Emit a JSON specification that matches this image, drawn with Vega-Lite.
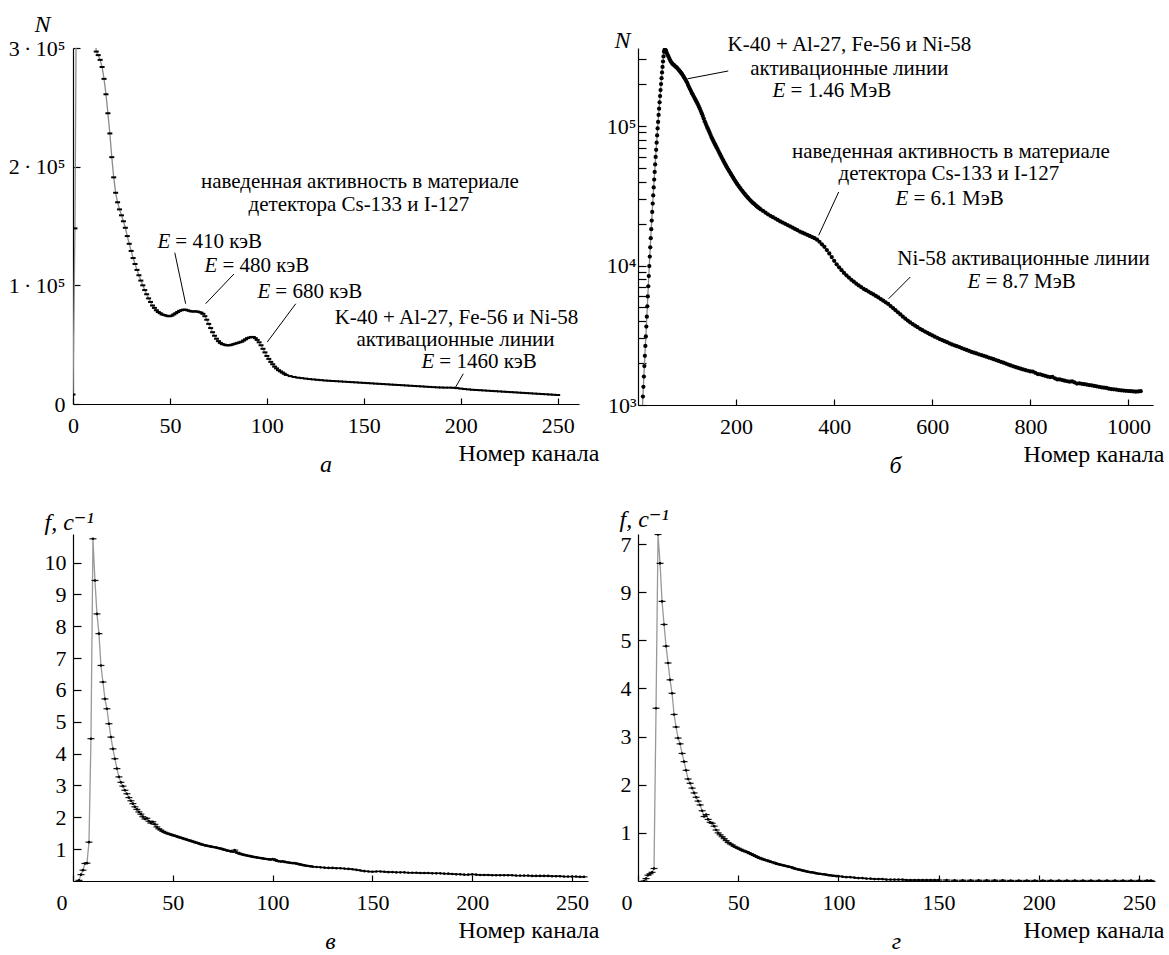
{
"$schema": "https://vega.github.io/schema/vega-lite/v6.json",
"background": "white",
"padding": {"left": 8, "top": 12, "right": 0, "bottom": 0},
"bounds": "flush",
"columns": 2,
"spacing": {"row": 129, "column": 50},
"config": {
  "font": "Liberation Serif, Times New Roman, DejaVu Serif, serif",
  "view": {"stroke": null},
  "axis": {"grid": false, "domainColor": "#000", "domainWidth": 1.2, "tickColor": "#000", "tickWidth": 1.2,
    "labelFont": "Liberation Serif, Times New Roman, DejaVu Serif, serif", "labelFontSize": 22, "labelColor": "#000",
    "titleFont": "Liberation Serif, Times New Roman, DejaVu Serif, serif", "titleFontSize": 24, "titleFontWeight": "normal", "titleColor": "#000",
    "labelFlush": false, "labelOverlap": false, "labelBound": false},
  "axisX": {"tickSize": -6, "labelPadding": 17, "titleAlign": "right", "titleAnchor": "end", "titleX": 526, "titleY": 49, "titleBaseline": "middle", "format": "d"},
  "axisY": {"tickSize": -7, "labelPadding": 15, "titleAngle": 0, "titleBaseline": "middle"},
  "title": {"font": "Liberation Serif, Times New Roman, DejaVu Serif, serif", "fontSize": 24, "fontStyle": "italic", "fontWeight": "normal", "color": "#000", "orient": "bottom", "anchor": "middle", "baseline": "middle", "offset": -12},
  "text": {"font": "Liberation Serif, Times New Roman, DejaVu Serif, serif", "fontSize": 21, "color": "#000"}
},
"datasets": {
"a": [{"c":0,"n":8000},{"c":1,"n":148000},{"c":2,"n":420000},{"c":3,"n":560000},{"c":4,"n":600000},{"c":5,"n":590000},{"c":6,"n":560000},{"c":7,"n":520000},{"c":8,"n":470000},{"c":9,"n":420000},{"c":10,"n":370000},{"c":11,"n":320000},{"c":12,"n":297000},{"c":13,"n":294000},{"c":14,"n":290000},{"c":15,"n":284000},{"c":16,"n":274000},{"c":17,"n":261000},{"c":18,"n":245000},{"c":19,"n":228000},{"c":20,"n":208000},{"c":21,"n":191000},{"c":22,"n":178000},{"c":23,"n":170000},{"c":24,"n":164000},{"c":25,"n":159000},{"c":26,"n":154000},{"c":27,"n":148500},{"c":28,"n":141500},{"c":29,"n":135000},{"c":30,"n":129000},{"c":31,"n":123000},{"c":32,"n":118000},{"c":33,"n":113000},{"c":34,"n":108500},{"c":35,"n":104000},{"c":36,"n":100000},{"c":37,"n":96000},{"c":38,"n":92500},{"c":39,"n":89000},{"c":40,"n":86000},{"c":41,"n":83000},{"c":42,"n":81000},{"c":43,"n":79000},{"c":44,"n":77500},{"c":45,"n":76500},{"c":46,"n":75500},{"c":47,"n":75000},{"c":48,"n":74500},{"c":49,"n":74000},{"c":50,"n":74000},{"c":51,"n":74500},{"c":52,"n":75500},{"c":53,"n":76500},{"c":54,"n":77500},{"c":55,"n":78500},{"c":56,"n":79000},{"c":57,"n":79500},{"c":58,"n":79500},{"c":59,"n":79000},{"c":60,"n":78500},{"c":61,"n":78000},{"c":62,"n":78000},{"c":63,"n":78000},{"c":64,"n":78000},{"c":65,"n":77500},{"c":66,"n":77000},{"c":67,"n":76000},{"c":68,"n":74000},{"c":69,"n":71000},{"c":70,"n":67500},{"c":71,"n":64000},{"c":72,"n":60500},{"c":73,"n":57500},{"c":74,"n":55000},{"c":75,"n":53000},{"c":76,"n":51500},{"c":77,"n":50500},{"c":78,"n":50000},{"c":79,"n":49500},{"c":80,"n":49500},{"c":81,"n":49500},{"c":82,"n":50000},{"c":83,"n":50500},{"c":84,"n":51000},{"c":85,"n":51500},{"c":86,"n":52000},{"c":87,"n":52500},{"c":88,"n":53500},{"c":89,"n":54500},{"c":90,"n":55500},{"c":91,"n":56000},{"c":92,"n":56500},{"c":93,"n":56500},{"c":94,"n":55500},{"c":95,"n":54000},{"c":96,"n":52000},{"c":97,"n":49500},{"c":98,"n":46500},{"c":99,"n":43500},{"c":100,"n":40500},{"c":101,"n":38000},{"c":102,"n":35500},{"c":103,"n":33500},{"c":104,"n":31500},{"c":105,"n":30000},{"c":106,"n":28500},{"c":107,"n":27500},{"c":108,"n":26500},{"c":109,"n":25500},{"c":110,"n":24500},{"c":112,"n":23500},{"c":114,"n":22800},{"c":116,"n":22200},{"c":118,"n":21800},{"c":120,"n":21400},{"c":122,"n":21000},{"c":124,"n":20700},{"c":126,"n":20400},{"c":128,"n":20100},{"c":130,"n":19800},{"c":132,"n":19600},{"c":134,"n":19400},{"c":136,"n":19200},{"c":138,"n":19000},{"c":140,"n":18800},{"c":142,"n":18600},{"c":144,"n":18400},{"c":146,"n":18200},{"c":148,"n":18000},{"c":150,"n":17800},{"c":152,"n":17600},{"c":154,"n":17400},{"c":156,"n":17200},{"c":158,"n":17000},{"c":160,"n":16800},{"c":162,"n":16600},{"c":164,"n":16400},{"c":166,"n":16200},{"c":168,"n":16000},{"c":170,"n":15800},{"c":172,"n":15600},{"c":174,"n":15400},{"c":176,"n":15200},{"c":178,"n":15000},{"c":180,"n":14800},{"c":182,"n":14600},{"c":184,"n":14400},{"c":186,"n":14200},{"c":188,"n":14000},{"c":190,"n":13900},{"c":192,"n":13800},{"c":194,"n":13800},{"c":196,"n":13700},{"c":198,"n":13400},{"c":200,"n":13000},{"c":202,"n":12600},{"c":204,"n":12300},{"c":206,"n":12000},{"c":208,"n":11800},{"c":210,"n":11600},{"c":212,"n":11400},{"c":214,"n":11200},{"c":216,"n":11000},{"c":218,"n":10800},{"c":220,"n":10600},{"c":222,"n":10400},{"c":224,"n":10200},{"c":226,"n":10000},{"c":228,"n":9800},{"c":230,"n":9600},{"c":232,"n":9400},{"c":234,"n":9200},{"c":236,"n":9000},{"c":238,"n":8800},{"c":240,"n":8600},{"c":242,"n":8400},{"c":244,"n":8200},{"c":246,"n":8000},{"c":248,"n":7800},{"c":250,"n":7600}],
"aTxt": [{"c":148,"n":187000,"t":"наведенная активность в материале"},{"c":147.5,"n":167700,"t":"детектора Cs-133 и I-127"},{"c":197.8,"n":72500,"t":"K-40 + Al-27, Fe-56 и Ni-58"},{"c":197.3,"n":53900,"t":"активационные линии"}],
"aE": [{"c":50.2,"n":136500,"t":"= 410 кэВ"},{"c":74.5,"n":116300,"t":"= 480 кэВ"},{"c":101.8,"n":94400,"t":"= 680 кэВ"},{"c":186.4,"n":35400,"t":"= 1460 кэВ"}],
"aLead": [{"c":52.5,"n":127500,"c2":58.1,"n2":84500},{"c":83.0,"n":109500,"c2":68.4,"n2":84500},{"c":114.9,"n":84500,"c2":100.2,"n2":52200},{"c":201.3,"n":25500,"c2":197.4,"n2":14300}],
"b": [{"c":9,"n":950},{"c":10,"n":1150},{"c":11,"n":1350},{"c":12,"n":1600},{"c":13,"n":1900},{"c":14,"n":2250},{"c":15,"n":2650},{"c":16,"n":3100},{"c":17,"n":3650},{"c":18,"n":4300},{"c":19,"n":5100},{"c":20,"n":6000},{"c":21,"n":7100},{"c":22,"n":8400},{"c":23,"n":9900},{"c":24,"n":11600},{"c":25,"n":13500},{"c":26,"n":15700},{"c":27,"n":18200},{"c":28,"n":21000},{"c":29,"n":24200},{"c":30,"n":27800},{"c":31,"n":31800},{"c":32,"n":36300},{"c":33,"n":41300},{"c":34,"n":46900},{"c":35,"n":53000},{"c":36,"n":60000},{"c":37,"n":67500},{"c":38,"n":76000},{"c":39,"n":85500},{"c":40,"n":96000},{"c":41,"n":107000},{"c":42,"n":120000},{"c":43,"n":133000},{"c":44,"n":148000},{"c":45,"n":164000},{"c":46,"n":181000},{"c":47,"n":200000},{"c":48,"n":220000},{"c":49,"n":242000},{"c":50,"n":265000},{"c":51,"n":290000},{"c":52,"n":315000},{"c":53,"n":340000},{"c":54,"n":350000},{"c":55,"n":352000},{"c":56,"n":350000},{"c":57,"n":345000},{"c":58,"n":338000},{"c":60,"n":326000},{"c":62,"n":315000},{"c":64,"n":304000},{"c":66,"n":294000},{"c":68,"n":286000},{"c":70,"n":280000},{"c":72,"n":276000},{"c":74,"n":272000},{"c":76,"n":268000},{"c":78,"n":264000},{"c":80,"n":260000},{"c":82,"n":255000},{"c":84,"n":250000},{"c":86,"n":245000},{"c":88,"n":240000},{"c":90,"n":235000},{"c":92,"n":229000},{"c":94,"n":223000},{"c":96,"n":217000},{"c":98,"n":211000},{"c":100,"n":205000},{"c":102,"n":197000},{"c":104,"n":190000},{"c":106,"n":184000},{"c":108,"n":178000},{"c":110,"n":172000},{"c":112,"n":167000},{"c":114,"n":162000},{"c":116,"n":157000},{"c":118,"n":152500},{"c":120,"n":148000},{"c":122,"n":143000},{"c":124,"n":138000},{"c":126,"n":133000},{"c":128,"n":128000},{"c":130,"n":123000},{"c":132,"n":118000},{"c":134,"n":113000},{"c":136,"n":108000},{"c":138,"n":104000},{"c":140,"n":100000},{"c":142,"n":96500},{"c":144,"n":93000},{"c":146,"n":89500},{"c":148,"n":86200},{"c":150,"n":83000},{"c":152,"n":80300},{"c":154,"n":77700},{"c":156,"n":75200},{"c":158,"n":72800},{"c":160,"n":70500},{"c":162,"n":68300},{"c":164,"n":66100},{"c":166,"n":64000},{"c":168,"n":62000},{"c":170,"n":60000},{"c":172,"n":58200},{"c":174,"n":56400},{"c":176,"n":54700},{"c":178,"n":53100},{"c":180,"n":51500},{"c":182,"n":50100},{"c":184,"n":48700},{"c":186,"n":47400},{"c":188,"n":46200},{"c":190,"n":45000},{"c":192,"n":43800},{"c":194,"n":42600},{"c":196,"n":41500},{"c":198,"n":40500},{"c":200,"n":39500},{"c":202.5,"n":38300},{"c":205,"n":37200},{"c":207.5,"n":36200},{"c":210,"n":35200},{"c":212.5,"n":34300},{"c":215,"n":33400},{"c":217.5,"n":32600},{"c":220,"n":31800},{"c":222.5,"n":31100},{"c":225,"n":30400},{"c":227.5,"n":29700},{"c":230,"n":29100},{"c":232.5,"n":28500},{"c":235,"n":28000},{"c":237.5,"n":27500},{"c":240,"n":27000},{"c":242.5,"n":26500},{"c":245,"n":26100},{"c":247.5,"n":25700},{"c":250,"n":25300},{"c":255,"n":24600},{"c":260,"n":23900},{"c":265,"n":23300},{"c":270,"n":22700},{"c":275,"n":22200},{"c":280,"n":21700},{"c":285,"n":21200},{"c":290,"n":20700},{"c":295,"n":20300},{"c":300,"n":19900},{"c":305,"n":19500},{"c":310,"n":19100},{"c":315,"n":18700},{"c":320,"n":18300},{"c":325,"n":17900},{"c":330,"n":17500},{"c":335,"n":17200},{"c":340,"n":16900},{"c":345,"n":16600},{"c":350,"n":16300},{"c":355,"n":16000},{"c":360,"n":15700},{"c":365,"n":15300},{"c":370,"n":14800},{"c":375,"n":14200},{"c":380,"n":13600},{"c":385,"n":12900},{"c":390,"n":12200},{"c":395,"n":11500},{"c":400,"n":10800},{"c":405,"n":10200},{"c":410,"n":9700},{"c":415,"n":9250},{"c":420,"n":8850},{"c":425,"n":8500},{"c":430,"n":8200},{"c":435,"n":7900},{"c":440,"n":7650},{"c":445,"n":7400},{"c":450,"n":7200},{"c":455,"n":7000},{"c":460,"n":6800},{"c":465,"n":6650},{"c":470,"n":6500},{"c":475,"n":6350},{"c":480,"n":6200},{"c":485,"n":6050},{"c":490,"n":5900},{"c":495,"n":5750},{"c":500,"n":5600},{"c":505,"n":5450},{"c":510,"n":5300},{"c":515,"n":5120},{"c":520,"n":4950},{"c":525,"n":4780},{"c":530,"n":4620},{"c":535,"n":4460},{"c":540,"n":4300},{"c":545,"n":4160},{"c":550,"n":4030},{"c":555,"n":3910},{"c":560,"n":3800},{"c":565,"n":3700},{"c":570,"n":3610},{"c":575,"n":3520},{"c":580,"n":3440},{"c":585,"n":3360},{"c":590,"n":3290},{"c":595,"n":3220},{"c":600,"n":3150},{"c":605,"n":3090},{"c":610,"n":3030},{"c":615,"n":2970},{"c":620,"n":2920},{"c":625,"n":2870},{"c":630,"n":2820},{"c":635,"n":2770},{"c":640,"n":2720},{"c":645,"n":2680},{"c":650,"n":2640},{"c":655,"n":2600},{"c":660,"n":2560},{"c":665,"n":2520},{"c":670,"n":2480},{"c":675,"n":2440},{"c":680,"n":2400},{"c":685,"n":2370},{"c":690,"n":2340},{"c":695,"n":2310},{"c":700,"n":2280},{"c":705,"n":2250},{"c":710,"n":2220},{"c":715,"n":2190},{"c":720,"n":2160},{"c":725,"n":2130},{"c":730,"n":2100},{"c":735,"n":2070},{"c":740,"n":2040},{"c":745,"n":2010},{"c":750,"n":1980},{"c":755,"n":1950},{"c":760,"n":1920},{"c":765,"n":1895},{"c":770,"n":1870},{"c":775,"n":1845},{"c":780,"n":1820},{"c":785,"n":1800},{"c":790,"n":1780},{"c":795,"n":1760},{"c":800,"n":1740},{"c":805,"n":1735},{"c":810,"n":1700},{"c":815,"n":1665},{"c":820,"n":1660},{"c":825,"n":1640},{"c":830,"n":1620},{"c":835,"n":1600},{"c":840,"n":1585},{"c":845,"n":1590},{"c":850,"n":1555},{"c":855,"n":1525},{"c":860,"n":1525},{"c":865,"n":1510},{"c":870,"n":1495},{"c":875,"n":1480},{"c":880,"n":1470},{"c":885,"n":1475},{"c":890,"n":1450},{"c":895,"n":1425},{"c":900,"n":1430},{"c":905,"n":1420},{"c":910,"n":1410},{"c":915,"n":1400},{"c":920,"n":1390},{"c":925,"n":1385},{"c":930,"n":1370},{"c":935,"n":1360},{"c":940,"n":1350},{"c":945,"n":1340},{"c":950,"n":1330},{"c":955,"n":1325},{"c":960,"n":1310},{"c":965,"n":1300},{"c":970,"n":1295},{"c":975,"n":1290},{"c":980,"n":1280},{"c":985,"n":1275},{"c":990,"n":1270},{"c":995,"n":1265},{"c":1000,"n":1260},{"c":1005,"n":1255},{"c":1010,"n":1250},{"c":1015,"n":1245},{"c":1020,"n":1250},{"c":1025,"n":1255}],
"bTxt": [{"c":431,"n":380700,"t":"K-40 + Al-27, Fe-56 и Ni-58"},{"c":431,"n":256200,"t":"активационные линии"},{"c":638,"n":65100,"t":"наведенная активность в материале"},{"c":634,"n":45300,"t":"детектора Cs-133 и I-127"},{"c":786,"n":11130,"t":"Ni-58 активационные линии"}],
"bE": [{"c":300.5,"n":178200,"t":"= 1.46 МэВ"},{"c":551.3,"n":29970,"t":"= 6.1 МэВ"},{"c":698.1,"n":7616,"t":"= 8.7 МэВ"}],
"bLead": [{"c":101,"n":218000,"c2":184,"n2":248000},{"c":409.2,"n":33650,"c2":368.4,"n2":16460},{"c":555.2,"n":8272,"c2":511.1,"n2":5781}],
"c": [{"c":3,"f":0.02},{"c":4,"f":0.2},{"c":5,"f":0.34},{"c":6,"f":0.55},{"c":7,"f":0.56},{"c":8,"f":1.22},{"c":9,"f":4.47},{"c":10,"f":10.75},{"c":11,"f":9.44},{"c":12,"f":8.39},{"c":13,"f":7.77},{"c":14,"f":6.77},{"c":15,"f":6.25},{"c":16,"f":5.72},{"c":17,"f":5.41},{"c":18,"f":4.94},{"c":19,"f":4.52},{"c":20,"f":4.15},{"c":21,"f":3.84},{"c":22,"f":3.53},{"c":23,"f":3.27},{"c":24,"f":3.1},{"c":25,"f":2.98},{"c":26,"f":2.85},{"c":27,"f":2.74},{"c":28,"f":2.62},{"c":29,"f":2.52},{"c":30,"f":2.43},{"c":31,"f":2.33},{"c":32,"f":2.25},{"c":33,"f":2.17},{"c":34,"f":2.1},{"c":35,"f":2.02},{"c":36,"f":1.95},{"c":37,"f":1.97},{"c":38,"f":1.88},{"c":39,"f":1.82},{"c":40,"f":1.86},{"c":41,"f":1.78},{"c":42,"f":1.7},{"c":43,"f":1.64},{"c":44,"f":1.6},{"c":45,"f":1.56},{"c":46,"f":1.53},{"c":47,"f":1.5},{"c":48,"f":1.48},{"c":49,"f":1.46},{"c":50,"f":1.44},{"c":51,"f":1.42},{"c":52,"f":1.4},{"c":53,"f":1.38},{"c":54,"f":1.36},{"c":55,"f":1.34},{"c":56,"f":1.32},{"c":57,"f":1.3},{"c":58,"f":1.28},{"c":59,"f":1.26},{"c":60,"f":1.24},{"c":61,"f":1.22},{"c":62,"f":1.2},{"c":63,"f":1.18},{"c":64,"f":1.16},{"c":65,"f":1.14},{"c":66,"f":1.12},{"c":67,"f":1.11},{"c":68,"f":1.1},{"c":69,"f":1.08},{"c":70,"f":1.07},{"c":71,"f":1.06},{"c":72,"f":1.05},{"c":73,"f":1.03},{"c":74,"f":1.02},{"c":75,"f":1.0},{"c":76,"f":0.98},{"c":77,"f":0.96},{"c":78,"f":0.95},{"c":79,"f":0.93},{"c":80,"f":0.92},{"c":81,"f":0.97},{"c":82,"f":0.9},{"c":83,"f":0.87},{"c":84,"f":0.85},{"c":85,"f":0.83},{"c":86,"f":0.82},{"c":87,"f":0.8},{"c":88,"f":0.79},{"c":89,"f":0.78},{"c":90,"f":0.76},{"c":91,"f":0.75},{"c":92,"f":0.74},{"c":93,"f":0.73},{"c":94,"f":0.72},{"c":95,"f":0.71},{"c":96,"f":0.7},{"c":97,"f":0.69},{"c":98,"f":0.68},{"c":99,"f":0.67},{"c":100,"f":0.69},{"c":101,"f":0.67},{"c":102,"f":0.64},{"c":103,"f":0.62},{"c":104,"f":0.61},{"c":105,"f":0.62},{"c":106,"f":0.6},{"c":107,"f":0.59},{"c":108,"f":0.58},{"c":109,"f":0.57},{"c":110,"f":0.56},{"c":111,"f":0.56},{"c":112,"f":0.55},{"c":113,"f":0.53},{"c":114,"f":0.52},{"c":115,"f":0.5},{"c":116,"f":0.49},{"c":117,"f":0.48},{"c":118,"f":0.47},{"c":119,"f":0.46},{"c":120,"f":0.45},{"c":122,"f":0.44},{"c":124,"f":0.43},{"c":126,"f":0.42},{"c":128,"f":0.41},{"c":130,"f":0.41},{"c":132,"f":0.4},{"c":134,"f":0.4},{"c":136,"f":0.39},{"c":138,"f":0.38},{"c":140,"f":0.37},{"c":142,"f":0.35},{"c":144,"f":0.33},{"c":146,"f":0.31},{"c":148,"f":0.3},{"c":150,"f":0.29},{"c":152,"f":0.3},{"c":154,"f":0.3},{"c":156,"f":0.29},{"c":158,"f":0.28},{"c":160,"f":0.28},{"c":162,"f":0.27},{"c":164,"f":0.27},{"c":166,"f":0.27},{"c":168,"f":0.26},{"c":170,"f":0.26},{"c":172,"f":0.26},{"c":174,"f":0.25},{"c":176,"f":0.25},{"c":178,"f":0.25},{"c":180,"f":0.24},{"c":182,"f":0.24},{"c":184,"f":0.24},{"c":186,"f":0.23},{"c":188,"f":0.23},{"c":190,"f":0.22},{"c":192,"f":0.21},{"c":194,"f":0.21},{"c":196,"f":0.2},{"c":198,"f":0.2},{"c":200,"f":0.21},{"c":202,"f":0.2},{"c":204,"f":0.19},{"c":206,"f":0.19},{"c":208,"f":0.19},{"c":210,"f":0.18},{"c":212,"f":0.18},{"c":214,"f":0.18},{"c":216,"f":0.18},{"c":218,"f":0.18},{"c":220,"f":0.18},{"c":222,"f":0.17},{"c":224,"f":0.17},{"c":226,"f":0.17},{"c":228,"f":0.17},{"c":230,"f":0.16},{"c":232,"f":0.16},{"c":234,"f":0.16},{"c":236,"f":0.16},{"c":238,"f":0.16},{"c":240,"f":0.15},{"c":242,"f":0.15},{"c":244,"f":0.15},{"c":246,"f":0.14},{"c":248,"f":0.14},{"c":250,"f":0.14},{"c":252,"f":0.14},{"c":254,"f":0.13},{"c":256,"f":0.13}],
"d": [{"c":3,"f":0.0},{"c":4,"f":0.05},{"c":5,"f":0.12},{"c":6,"f":0.15},{"c":7,"f":0.18},{"c":8,"f":0.26},{"c":9,"f":3.59},{"c":10,"f":7.2},{"c":11,"f":6.6},{"c":12,"f":5.81},{"c":13,"f":5.33},{"c":14,"f":4.88},{"c":15,"f":4.53},{"c":16,"f":4.18},{"c":17,"f":3.9},{"c":18,"f":3.46},{"c":19,"f":3.2},{"c":20,"f":2.97},{"c":21,"f":2.85},{"c":22,"f":2.65},{"c":23,"f":2.48},{"c":24,"f":2.3},{"c":25,"f":2.12},{"c":26,"f":2.03},{"c":27,"f":1.93},{"c":28,"f":1.83},{"c":29,"f":1.74},{"c":30,"f":1.66},{"c":31,"f":1.58},{"c":32,"f":1.46},{"c":33,"f":1.34},{"c":34,"f":1.38},{"c":35,"f":1.28},{"c":36,"f":1.22},{"c":37,"f":1.2},{"c":38,"f":1.14},{"c":39,"f":1.06},{"c":40,"f":1.0},{"c":41,"f":0.96},{"c":42,"f":0.92},{"c":43,"f":0.88},{"c":44,"f":0.84},{"c":45,"f":0.8},{"c":46,"f":0.77},{"c":47,"f":0.75},{"c":48,"f":0.72},{"c":49,"f":0.7},{"c":50,"f":0.68},{"c":51,"f":0.66},{"c":52,"f":0.64},{"c":53,"f":0.62},{"c":54,"f":0.61},{"c":55,"f":0.59},{"c":56,"f":0.57},{"c":57,"f":0.55},{"c":58,"f":0.53},{"c":59,"f":0.51},{"c":60,"f":0.49},{"c":61,"f":0.47},{"c":62,"f":0.46},{"c":63,"f":0.44},{"c":64,"f":0.43},{"c":65,"f":0.42},{"c":66,"f":0.4},{"c":67,"f":0.39},{"c":68,"f":0.38},{"c":69,"f":0.36},{"c":70,"f":0.35},{"c":71,"f":0.34},{"c":72,"f":0.33},{"c":73,"f":0.32},{"c":74,"f":0.31},{"c":75,"f":0.3},{"c":76,"f":0.29},{"c":77,"f":0.28},{"c":78,"f":0.26},{"c":79,"f":0.25},{"c":80,"f":0.24},{"c":81,"f":0.23},{"c":82,"f":0.22},{"c":83,"f":0.21},{"c":84,"f":0.2},{"c":85,"f":0.19},{"c":86,"f":0.18},{"c":87,"f":0.18},{"c":88,"f":0.17},{"c":89,"f":0.16},{"c":90,"f":0.15},{"c":91,"f":0.15},{"c":92,"f":0.14},{"c":93,"f":0.14},{"c":94,"f":0.13},{"c":95,"f":0.12},{"c":96,"f":0.12},{"c":97,"f":0.11},{"c":98,"f":0.11},{"c":99,"f":0.1},{"c":100,"f":0.1},{"c":102,"f":0.09},{"c":104,"f":0.08},{"c":106,"f":0.08},{"c":108,"f":0.07},{"c":110,"f":0.06},{"c":112,"f":0.06},{"c":114,"f":0.05},{"c":116,"f":0.05},{"c":118,"f":0.04},{"c":120,"f":0.04},{"c":122,"f":0.04},{"c":124,"f":0.03},{"c":126,"f":0.03},{"c":128,"f":0.03},{"c":130,"f":0.03},{"c":132,"f":0.03},{"c":134,"f":0.02},{"c":136,"f":0.02},{"c":138,"f":0.02},{"c":140,"f":0.02},{"c":142,"f":0.02},{"c":144,"f":0.02},{"c":146,"f":0.02},{"c":148,"f":0.02},{"c":150,"f":0.02},{"c":154,"f":0.02},{"c":158,"f":0.015},{"c":162,"f":0.015},{"c":166,"f":0.015},{"c":170,"f":0.015},{"c":174,"f":0.015},{"c":178,"f":0.015},{"c":182,"f":0.015},{"c":186,"f":0.01},{"c":190,"f":0.01},{"c":194,"f":0.01},{"c":198,"f":0.01},{"c":202,"f":0.01},{"c":206,"f":0.01},{"c":210,"f":0.01},{"c":214,"f":0.01},{"c":218,"f":0.01},{"c":222,"f":0.01},{"c":226,"f":0.01},{"c":230,"f":0.01},{"c":234,"f":0.01},{"c":238,"f":0.01},{"c":242,"f":0.01},{"c":246,"f":0.01},{"c":250,"f":0.01},{"c":254,"f":0.01},{"c":256,"f":0.01}]
},
"concat": [
{
  "width": 506, "height": 356,
  "title": {"text": "а"},
  "encoding": {
    "x": {"field": "c", "type": "quantitative", "scale": {"domain": [0, 261], "nice": false, "zero": false},
      "axis": {"values": [0, 50, 100, 150, 200, 250], "title": "Номер канала"}},
    "y": {"field": "n", "type": "quantitative", "scale": {"domain": [0, 300000], "nice": false, "zero": false},
      "axis": {"values": [0, 100000, 200000, 300000], "labelExpr": "datum.value === 0 ? '0' : (datum.value / 100000) + '\u2009·\u200910⁵'", "title": "N", "titleFontStyle": "italic", "titleAlign": "center", "titleX": -31, "titleY": -24}}
  },
  "layer": [
    {"data": {"name": "a"}, "mark": {"type": "line", "color": "#8a8a8a", "strokeWidth": 1.3, "clip": true}},
    {"data": {"name": "a"}, "mark": {"type": "tick", "orient": "horizontal", "color": "#000", "size": 5, "thickness": 2, "opacity": 1, "clip": true}},
    {"data": {"name": "aLead"}, "mark": {"type": "rule", "color": "#000", "strokeWidth": 1}, "encoding": {"x2": {"field": "c2"}, "y2": {"field": "n2"}}},
    {"data": {"name": "aTxt"}, "mark": {"type": "text", "align": "center", "baseline": "middle"}, "encoding": {"text": {"field": "t"}}},
    {"data": {"name": "aE"}, "mark": {"type": "text", "text": "E", "align": "right", "baseline": "middle", "fontStyle": "italic"}, "encoding": {}},
    {"data": {"name": "aE"}, "mark": {"type": "text", "align": "left", "baseline": "middle", "dx": 5}, "encoding": {"text": {"field": "t"}}}
  ]
},
{
  "width": 515, "height": 357,
  "title": {"text": "б"},
  "encoding": {
    "x": {"field": "c", "type": "quantitative", "scale": {"domain": [0, 1050], "nice": false, "zero": false},
      "axis": {"values": [200, 400, 600, 800, 1000], "title": "Номер канала"}},
    "y": {"field": "n", "type": "quantitative", "scale": {"type": "log", "domain": [1000, 362400], "nice": false},
      "axis": {"values": [1000, 2000, 3000, 4000, 5000, 6000, 7000, 8000, 9000, 10000, 20000, 30000, 40000, 50000, 60000, 70000, 80000, 90000, 100000, 200000, 300000],
        "labelExpr": "datum.value === 1000 ? '10³' : datum.value === 10000 ? '10⁴' : datum.value === 100000 ? '10⁵' : ''",
        "tickSize": -8, "labelPadding": 10,
        "encode": {"ticks": {"x2": {"condition": {"test": "datum.value === 1000 || datum.value === 10000 || datum.value === 100000", "value": 8}, "value": 5}}},
        "title": "N", "titleFontStyle": "italic", "titleAlign": "center", "titleX": -16, "titleY": -8}}
  },
  "layer": [
    {"data": {"name": "b"}, "mark": {"type": "line", "color": "#8a8a8a", "strokeWidth": 1.3, "clip": true}},
    {"data": {"name": "b"}, "mark": {"type": "point", "shape": "circle", "filled": true, "color": "#000", "size": 18, "opacity": 1, "clip": true}},
    {"data": {"name": "bLead"}, "mark": {"type": "rule", "color": "#000", "strokeWidth": 1}, "encoding": {"x2": {"field": "c2"}, "y2": {"field": "n2"}}},
    {"data": {"name": "bTxt"}, "mark": {"type": "text", "align": "center", "baseline": "middle"}, "encoding": {"text": {"field": "t"}}},
    {"data": {"name": "bE"}, "mark": {"type": "text", "text": "E", "align": "right", "baseline": "middle", "fontStyle": "italic"}, "encoding": {}},
    {"data": {"name": "bE"}, "mark": {"type": "text", "align": "left", "baseline": "middle", "dx": 5}, "encoding": {"text": {"field": "t"}}}
  ]
},
{
  "width": 515, "height": 347,
  "title": {"text": "в"},
  "encoding": {
    "x": {"field": "c", "type": "quantitative", "scale": {"domain": [0, 258], "nice": false, "zero": false},
      "axis": {"values": [0, 50, 100, 150, 200, 250], "title": "Номер канала",
        "labelAlign": {"condition": {"test": "datum.value === 0", "value": "right"}, "value": "center"},
        "labelOffset": {"condition": {"test": "datum.value === 0", "value": -6}, "value": 0}}},
    "y": {"field": "f", "type": "quantitative", "scale": {"domain": [0, 10.9], "nice": false, "zero": false},
      "axis": {"values": [1, 2, 3, 4, 5, 6, 7, 8, 9, 10], "tickSize": -8, "labelPadding": 15, "title": "f, с⁻¹", "titleFontStyle": "italic", "titleAlign": "left", "titleX": -29, "titleY": -12}}
  },
  "layer": [
    {"data": {"name": "c"}, "mark": {"type": "line", "color": "#999999", "strokeWidth": 1.3, "clip": true}},
    {"data": {"name": "c"}, "mark": {"type": "tick", "orient": "horizontal", "color": "#000", "size": 7, "thickness": 1.2, "opacity": 0.9, "clip": true}},
    {"data": {"name": "c"}, "mark": {"type": "point", "shape": "circle", "filled": true, "color": "#000", "size": 7, "opacity": 1, "clip": true}}
  ]
},
{
  "width": 517, "height": 347,
  "title": {"text": "г"},
  "encoding": {
    "x": {"field": "c", "type": "quantitative", "scale": {"domain": [0, 258], "nice": false, "zero": false},
      "axis": {"values": [0, 50, 100, 150, 200, 250], "title": "Номер канала",
        "labelAlign": {"condition": {"test": "datum.value === 0", "value": "right"}, "value": "center"},
        "labelOffset": {"condition": {"test": "datum.value === 0", "value": -6}, "value": 0}}},
    "y": {"field": "f", "type": "quantitative", "scale": {"domain": [0, 7.21], "nice": false, "zero": false},
      "axis": {"values": [1, 2, 3, 4, 5, 6, 7], "labelExpr": "datum.value === 6 ? '9' : datum.label", "tickSize": -8, "labelPadding": 15, "title": "f, с⁻¹", "titleFontStyle": "italic", "titleAlign": "left", "titleX": -19, "titleY": -15}}
  },
  "layer": [
    {"data": {"name": "d"}, "mark": {"type": "line", "color": "#999999", "strokeWidth": 1.3, "clip": true}},
    {"data": {"name": "d"}, "mark": {"type": "tick", "orient": "horizontal", "color": "#000", "size": 7, "thickness": 1.2, "opacity": 0.9, "clip": true}},
    {"data": {"name": "d"}, "mark": {"type": "point", "shape": "circle", "filled": true, "color": "#000", "size": 7, "opacity": 1, "clip": true}}
  ]
}
]
}
